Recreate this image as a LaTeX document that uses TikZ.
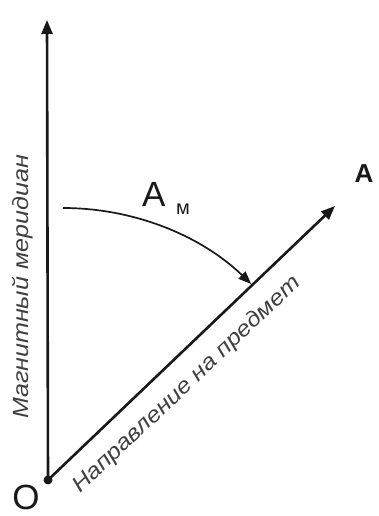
\documentclass[tikz,border=0pt]{standalone}
\usepackage{fontspec}
\setmainfont{Liberation Sans}
\newfontfamily\widesans[FakeStretch=1.14]{Liberation Sans}
\usetikzlibrary{arrows.meta}
\definecolor{ink}{gray}{0.10}
\definecolor{note}{gray}{0.25}

\begin{document}
\begin{tikzpicture}[x=1pt,y=1pt,
  every node/.style={inner sep=0pt,outer sep=0pt,text=ink},
  axis/.style={draw=ink,line width=2.6pt,-{Triangle[length=14pt,width=11pt]}},
  sweep/.style={draw=ink,line width=1.7pt,-{Triangle[length=13pt,width=10pt]}},
  lbl/.style={font=\widesans\itshape\fontsize{22}{24}\selectfont,text=note},
  big/.style={font=\fontsize{35}{40}\selectfont},
  sub/.style={font=\fontsize{20}{24}\selectfont}]
\useasboundingbox (0,0) rectangle (379,516);

% ---- origin and axes -----------------------------------------------------
\coordinate (O) at (48,36);
\coordinate (N) at (47,496);
\coordinate (T) at (335,310);
\draw[axis] (O) -- (N);
\draw[axis] (O) -- (T);
\fill[ink] (O) circle (4.5);
\node[big,anchor=center] (o) at (26,19) {O};

% ---- azimuth -------------------------------------------------------------
\coordinate (S) at (63,308);
\draw[sweep] (S) arc[start angle=90,end angle=46,radius=271];
\node[big,anchor=base west] (am) at (142,309) {А};
\node[sub,anchor=base west] (m) at (176,301) {м};

% ---- labels --------------------------------------------------------------
\node[lbl,rotate=90,anchor=center] (mer) at (23,229) {Магнитный меридиан};
\node[lbl,rotate=43.5,anchor=center] (dir) at (187,131) {Направление на предмет};
\node[big,font=\bfseries\fontsize{26}{30}\selectfont,anchor=center] (pt) at (364,342) {А};
\end{tikzpicture}
\end{document}
